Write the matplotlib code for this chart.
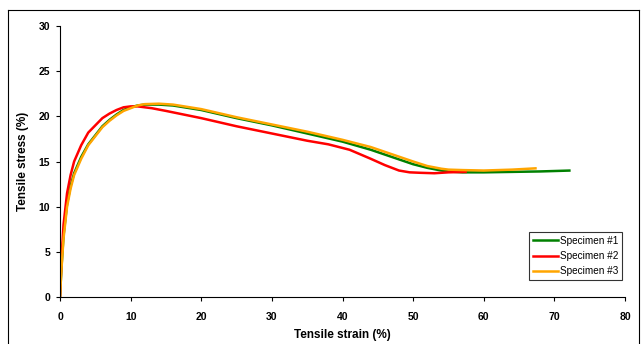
import matplotlib
matplotlib.use("Agg")
import matplotlib.pyplot as plt
from matplotlib.lines import Line2D

plt.rcParams['font.family'] = ['Liberation Sans', 'DejaVu Sans']

# Specimen #1 (green)
s1_x = [0, 0.2, 0.5, 1, 1.5, 2, 3, 4, 5, 6, 7, 8, 9, 10, 11, 12, 14, 16, 20, 25, 30, 35, 40, 44, 47, 50, 52, 54, 55, 57, 60, 64, 68, 72.3]
s1_y = [0, 3.2, 6.8, 10.3, 12.3, 13.7, 15.5, 16.9, 17.9, 18.9, 19.6, 20.2, 20.7, 21.0, 21.2, 21.3, 21.3, 21.2, 20.7, 19.8, 19.0, 18.1, 17.2, 16.3, 15.5, 14.7, 14.3, 14.0, 13.9, 13.8, 13.8, 13.85, 13.9, 14.0]

# Specimen #2 (red)
s2_x = [0, 0.2, 0.5, 1, 1.5, 2, 3, 4, 5, 6, 7, 8, 9, 10, 11, 13, 15, 20, 25, 30, 35, 38, 41, 44, 46, 48, 49.5, 51, 53, 55, 57.6]
s2_y = [0, 4, 8, 11.5, 13.5, 15, 16.8, 18.2, 19.0, 19.8, 20.3, 20.7, 21.0, 21.1, 21.1, 20.9, 20.6, 19.8, 18.9, 18.1, 17.3, 16.9, 16.3, 15.3, 14.6, 14.0, 13.8, 13.75, 13.7, 13.8, 13.85]

# Specimen #3 (orange)
s3_x = [0, 0.2, 0.5, 1, 1.5, 2, 3, 4, 5, 6, 7, 8, 9, 10, 11, 12, 14, 16, 20, 25, 30, 35, 40, 44, 47, 50, 52, 54, 55, 57, 60, 64, 67.5]
s3_y = [0, 3, 6.5, 10, 12, 13.5, 15.3, 16.8, 17.8, 18.8, 19.5, 20.1, 20.6, 20.9, 21.2, 21.35, 21.4, 21.3, 20.8, 19.9, 19.1, 18.3, 17.4, 16.6, 15.8, 15.0, 14.5, 14.2, 14.1, 14.05, 14.0, 14.1, 14.25]

labels = ["Specimen #1", "Specimen #2", "Specimen #3"]
colors = ["#008000", "#FF0000", "#FFA500"]

x_ticks = [0, 10, 20, 30, 40, 50, 60, 70, 80]
y_ticks = [0, 5, 10, 15, 20, 25, 30]

fig = plt.figure(figsize=(6.41, 3.44), dpi=100)
ax = fig.add_axes([60/641, 1-297/344, (625-60)/641, (297-26)/344])

series = [(s1_x, s1_y), (s2_x, s2_y), (s3_x, s3_y)]
for (xs, ys), c in zip(series, colors):
    ax.plot(xs, ys, color=c, lw=1.8, solid_capstyle='butt')

ax.set_xlim(0, 80)
ax.set_ylim(0, 30)
ax.set_xticks(x_ticks)
ax.set_yticks(y_ticks)
for s in ['top', 'right']:
    ax.spines[s].set_visible(False)
for s in ['left', 'bottom']:
    ax.spines[s].set_linewidth(0.8)
ax.tick_params(direction='out', length=3, width=0.8, labelsize=7.5)
ax.tick_params(axis='x', pad=7.5)
ax.tick_params(axis='y', pad=4)
for t in ax.get_xticklabels() + ax.get_yticklabels():
    t.set_fontweight('bold')
ax.set_xlabel("Tensile strain (%)", fontsize=8.5, fontweight='bold', labelpad=5)
ax.set_ylabel("Tensile stress (%)", fontsize=8.5, fontweight='bold', labelpad=7)

handles = [Line2D([0], [0], color=c, lw=1.8) for c in colors]
leg = ax.legend(handles, labels, loc='lower right',
                bbox_to_anchor=(622/641, 1-280/344), bbox_transform=fig.transFigure,
                fontsize=7.2, frameon=True, fancybox=False, handlelength=2.5,
                handletextpad=0.25, borderpad=0.35, labelspacing=0.55, borderaxespad=0)
leg.get_frame().set_edgecolor('black')
leg.get_frame().set_linewidth(0.8)

# outer chart border
bx0, by0, bx1 = 8/641, 1-10/344, 639/641
fig.add_artist(Line2D([bx0, bx1], [by0, by0], color='black', lw=0.8, transform=fig.transFigure))
fig.add_artist(Line2D([bx0, bx0], [by0, -0.01], color='black', lw=0.8, transform=fig.transFigure))
fig.add_artist(Line2D([bx1, bx1], [by0, -0.01], color='black', lw=0.8, transform=fig.transFigure))

fig.savefig("out.png", dpi=100)
